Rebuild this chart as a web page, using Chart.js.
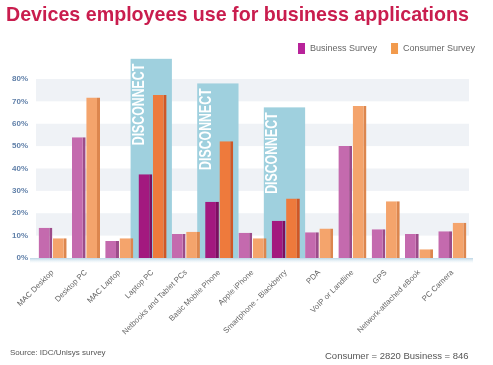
<!DOCTYPE html>
<html>
<head>
<meta charset="utf-8">
<script src="https://cdn.jsdelivr.net/npm/chart.js@4.4.0/dist/chart.umd.min.js"></script>
<style>
    html, body { margin: 0; padding: 0; background: #fff; }
    #wrap { position: relative; width: 493px; height: 365px; }
    .foot { position: absolute; font-family: "Liberation Sans", Arial, sans-serif; color: #555; }
</style>
</head>
<body>
<div id="wrap">
    <canvas id="devicesChart" width="493" height="365"></canvas>
    <div class="foot" style="left:10px; top:348px; font-size:8px;">Source: IDC/Unisys survey</div>
    <div class="foot" style="left:325px; top:350px; font-size:9.5px;">Consumer = 2820 Business = 846</div>
</div>
<script>
const categories = [
    'MAC Desktop', 'Desktop PC', 'MAC Laptop', 'Laptop PC', 'Netbooks and Tablet PCs',
    'Basic Mobile Phone', 'Apple iPhone', 'Smartphone - Blackberry', 'PDA',
    'VoIP or Landline', 'GPS', 'Network-attached eBook', 'PC Camera'
];
const businessSurvey = [13.5, 54, 7.6, 37.4, 10.7, 25.1, 11.3, 16.7, 11.5, 50, 12.8, 10.7, 12];
const consumerSurvey = [8.8, 71.7, 8.8, 72.8, 11.7, 52.2, 8.8, 26.6, 13.2, 67.9, 25.4, 3.9, 15.8];
const yTicks = [0, 10, 20, 30, 40, 50, 60, 70, 80];
const stripeBands = [[10, 20], [30, 40], [50, 60], [70, 80]];
const disconnectCategories = ['Laptop PC', 'Basic Mobile Phone', 'Smartphone - Blackberry'];
const disconnectHeights = [89, 78, 67.3];
const legendColors = ['#b8239a', '#f29a4c'];

const isDisconnect = (i) => disconnectCategories.includes(categories[i]);

// light stripes, floor line and the blue "DISCONNECT" panels behind the bars
const backdropPlugin = {
    id: 'backdrop',
    beforeDatasetsDraw(chart) {
        const { ctx, chartArea, scales } = chart;
        const x = scales.x, y = scales.y;
        ctx.save();
        ctx.fillStyle = '#eff2f6';
        stripeBands.forEach(([lo, hi]) => {
            const top = y.getPixelForValue(hi);
            const bottom = y.getPixelForValue(lo);
            ctx.fillRect(chartArea.left, top, chartArea.right - chartArea.left, bottom - top);
        });
        const band = x.getPixelForValue(1) - x.getPixelForValue(0);
        disconnectCategories.forEach((cat, k) => {
            const cx = x.getPixelForValue(categories.indexOf(cat));
            const top = y.getPixelForValue(disconnectHeights[k]);
            const bottom = y.getPixelForValue(0);
            const left = cx - band * 0.66;
            ctx.fillStyle = '#9fd0de';
            ctx.fillRect(left, top, band * 1.24, bottom - top);
            ctx.save();
            ctx.translate(left + 9, top + 5);
            ctx.rotate(-Math.PI / 2);
            ctx.scale(0.77, 1);
            ctx.fillStyle = '#ffffff';
            ctx.font = 'bold 16px "Liberation Sans", Arial, sans-serif';
            ctx.textAlign = 'right';
            ctx.textBaseline = 'middle';
            ctx.fillText('DISCONNECT', 0, 0);
            ctx.restore();
        });
        const base = y.getPixelForValue(0);
        const grad = ctx.createLinearGradient(0, base, 0, base + 5);
        grad.addColorStop(0, '#bcd6e6');
        grad.addColorStop(1, 'rgba(220,236,245,0)');
        ctx.fillStyle = grad;
        ctx.fillRect(chartArea.left - 6, base, chartArea.right - chartArea.left + 10, 5);
        ctx.restore();
    },
    // legend row above the plot, top right
    afterDraw(chart) {
        const ctx = chart.ctx;
        ctx.save();
        ctx.font = '9px "Liberation Sans", Arial, sans-serif';
        ctx.textBaseline = 'middle';
        let lx = 298;
        chart.data.datasets.forEach((ds, i) => {
            ctx.fillStyle = legendColors[i];
            ctx.fillRect(lx, 43, 7, 11);
            ctx.fillStyle = '#666';
            ctx.fillText(ds.label, lx + 12, 49);
            lx += 12 + ctx.measureText(ds.label).width + 14;
        });
        ctx.restore();
    }
};

new Chart(document.getElementById('devicesChart').getContext('2d'), {
    type: 'bar',
    data: {
        labels: categories,
        datasets: [
            {
                label: 'Business Survey',
                data: businessSurvey,
                backgroundColor: businessSurvey.map((v, i) => isDisconnect(i) ? '#a3197f' : '#c46aae'),
                borderColor: businessSurvey.map((v, i) => isDisconnect(i) ? '#7c0f60' : '#9c4c8a'),
                borderWidth: { top: 0, left: 0, bottom: 0, right: 3 },
                borderSkipped: false,
                categoryPercentage: 0.86,
                barPercentage: 0.96
            },
            {
                label: 'Consumer Survey',
                data: consumerSurvey,
                backgroundColor: consumerSurvey.map((v, i) => isDisconnect(i) ? '#ee7a3c' : '#f4a46c'),
                borderColor: consumerSurvey.map((v, i) => isDisconnect(i) ? '#cf5726' : '#dc864e'),
                borderWidth: { top: 0, left: 0, bottom: 0, right: 3 },
                borderSkipped: false,
                categoryPercentage: 0.86,
                barPercentage: 0.96
            }
        ]
    },
    options: {
        responsive: false,
        animation: false,
        layout: { padding: { left: 6, right: 24, top: 0, bottom: 27 } },
        plugins: {
            title: {
                display: true,
                text: 'Devices employees use for business applications',
                color: '#c91d4e',
                font: { family: '"Liberation Sans", Arial, sans-serif', size: 21, weight: 'bold' },
                padding: { top: 3, bottom: 6 }
            },
            legend: { display: false },
            tooltip: { enabled: false }
        },
        scales: {
            x: {
                grid: { display: false },
                border: { display: false },
                afterFit: (scale) => { scale.height = 80; },
                ticks: {
                    color: '#666',
                    font: { family: '"Liberation Sans", Arial, sans-serif', size: 7.8 },
                    minRotation: 45,
                    maxRotation: 45,
                    autoSkip: false,
                    padding: 2
                }
            },
            y: {
                min: 0,
                max: 100,
                afterFit: (scale) => { scale.width = 30; },
                afterBuildTicks: (scale) => { scale.ticks = yTicks.map(v => ({ value: v })); },
                grid: { display: false },
                border: { display: false },
                ticks: {
                    color: '#5f7fa8',
                    font: { family: '"Liberation Sans", Arial, sans-serif', size: 8, weight: 'bold' },
                    padding: 0,
                    callback: (v) => v + '%'
                }
            }
        }
    },
    plugins: [backdropPlugin]
});
</script>
</body>
</html>
